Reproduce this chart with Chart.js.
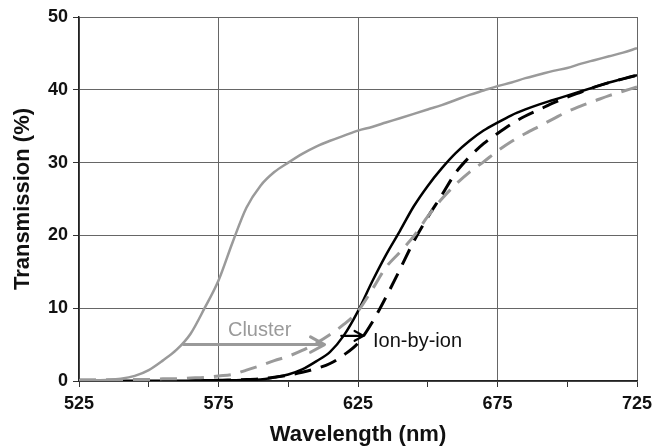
<!DOCTYPE html>
<html>
<head>
<meta charset="utf-8">
<script src="https://cdn.jsdelivr.net/npm/chart.js@4.4.1/dist/chart.umd.min.js"></script>
<style>
  html, body { margin: 0; padding: 0; background: #fff; }
  #wrap { width: 652px; height: 448px; position: relative; }
</style>
</head>
<body>
<div id="wrap"><canvas id="chart"></canvas></div>
<script>
// wavelength grid (nm)
const wavelengths = [
  525, 530, 535, 540, 545, 550, 555, 560, 565, 570,
  575, 580, 585, 590, 595, 600, 605, 610, 615, 620,
  625, 630, 635, 640, 645, 650, 655, 660, 665, 670,
  675, 680, 685, 690, 695, 700, 705, 710, 715, 720, 725
];

// transmission (%)
const clusterSolid = [
  0.1, 0.1, 0.15, 0.3, 0.7, 1.5, 2.8, 4.3, 6.5, 10.0,
  13.8, 19.0, 23.8, 26.8, 28.7, 30.0, 31.2, 32.2, 33.0, 33.7,
  34.4, 34.9, 35.5, 36.1, 36.7, 37.3, 37.9, 38.6, 39.3, 39.9,
  40.5, 41.0, 41.6, 42.1, 42.6, 43.0, 43.6, 44.1, 44.6, 45.1, 45.7
];
const clusterDashed = [
  0.1, 0.1, 0.1, 0.15, 0.2, 0.2, 0.3, 0.3, 0.4, 0.5,
  0.7, 0.9, 1.5, 2.1, 2.8, 3.4, 4.2, 5.2, 6.4, 7.8,
  9.6, 12.5, 15.6, 17.7, 19.9, 22.6, 25.0, 27.0, 28.7, 30.1,
  31.6, 32.9, 34.0, 35.0, 36.0, 37.0, 37.8, 38.5, 39.2, 39.8, 40.4
];
const ionSolid = [
  0.05, 0.05, 0.05, 0.05, 0.05, 0.05, 0.05, 0.05, 0.05, 0.1,
  0.1, 0.1, 0.15, 0.2, 0.5, 0.9, 1.6, 2.7, 4.0, 6.3,
  9.6, 13.6, 17.3, 20.6, 24.0, 26.8, 29.2, 31.3, 33.0, 34.4,
  35.5, 36.5, 37.3, 38.0, 38.6, 39.2, 39.8, 40.4, 41.0, 41.5, 42.0
];
const ionDashed = [
  0.1, 0.1, 0.1, 0.1, 0.1, 0.1, 0.1, 0.1, 0.1, 0.1,
  0.1, 0.15, 0.2, 0.3, 0.5, 0.8, 1.2, 1.7, 2.4, 3.6,
  5.2, 8.0, 11.5, 15.3, 19.2, 22.5, 25.5, 28.6, 30.8, 32.6,
  34.0, 35.3, 36.4, 37.3, 38.2, 39.0, 39.7, 40.4, 41.0, 41.5, 42.0
];

// in-plot notes: [fromNm, toNm, percent]
const clusterArrow = [562.5, 613, 5];
const ionArrow = [619, 627, 6.2];
// [text, nm, percent]
const clusterNote = ['Cluster', 578.4, 7.0];
const ionNote = ['Ion-by-ion', 630.4, 5.4];

const GRAY = '#9a9a9a';
const BLACK = '#000';
const FONT = '"Liberation Sans", Arial, sans-serif';

function pts(ys) {
  return wavelengths.map((x, i) => ({ x: x, y: ys[i] }));
}

function drawArrow(ctx, x1, x2, y, color, width, head) {
  ctx.save();
  ctx.strokeStyle = color;
  ctx.lineWidth = width;
  ctx.lineCap = 'round';
  ctx.lineJoin = 'round';
  ctx.beginPath();
  ctx.moveTo(x1, y);
  ctx.lineTo(x2, y);
  ctx.moveTo(x2 - head, y - head * 0.55);
  ctx.lineTo(x2, y);
  ctx.lineTo(x2 - head, y + head * 0.55);
  ctx.stroke();
  ctx.restore();
}

const notesPlugin = {
  id: 'notes',
  afterDatasetsDraw(chart) {
    const { ctx, scales: { x, y } } = chart;
    drawArrow(ctx, x.getPixelForValue(clusterArrow[0]), x.getPixelForValue(clusterArrow[1]),
      y.getPixelForValue(clusterArrow[2]), GRAY, 3, 14);
    drawArrow(ctx, x.getPixelForValue(ionArrow[0]), x.getPixelForValue(ionArrow[1]),
      y.getPixelForValue(ionArrow[2]), BLACK, 2.2, 9);

    ctx.save();
    ctx.font = '20px ' + FONT;
    ctx.textBaseline = 'middle';
    ctx.textAlign = 'left';
    ctx.fillStyle = GRAY;
    ctx.fillText(clusterNote[0], x.getPixelForValue(clusterNote[1]), y.getPixelForValue(clusterNote[2]));
    ctx.fillStyle = '#111';
    ctx.fillText(ionNote[0], x.getPixelForValue(ionNote[1]), y.getPixelForValue(ionNote[2]));
    ctx.restore();
  }
};

function line(label, ys, color, width, dash) {
  return {
    label: label,
    data: pts(ys),
    borderColor: color,
    borderWidth: width,
    borderDash: dash,
    pointRadius: 0,
    fill: false,
    tension: 0.4,
    cubicInterpolationMode: 'monotone'
  };
}

new Chart(document.getElementById('chart'), {
  type: 'line',
  data: {
    datasets: [
      line('Cluster', clusterSolid, GRAY, 2.5, []),
      line('Cluster (dashed)', clusterDashed, GRAY, 3, [17, 10]),
      line('Ion-by-ion (dashed)', ionDashed, BLACK, 3, [17, 10]),
      line('Ion-by-ion', ionSolid, BLACK, 2.5, [])
    ]
  },
  options: {
    responsive: true,
    maintainAspectRatio: false,
    animation: false,
    layout: { padding: { top: 17, right: 15, left: 0, bottom: 0 } },
    plugins: {
      legend: { display: false },
      tooltip: { enabled: false }
    },
    scales: {
      x: {
        type: 'linear',
        min: 525,
        max: 725,
        afterFit(scale) {
          scale.height = 67;
          scale.paddingLeft = 0;
          scale.paddingRight = 0;
        },
        ticks: {
          stepSize: 25,
          autoSkip: false,
          maxRotation: 0,
          padding: 6,
          color: '#111',
          font: { family: FONT, size: 18, weight: 'bold' },
          callback: v => ((v - 525) % 50 === 0 ? v : '')
        },
        grid: {
          color: c => ((c.tick && (c.tick.value - 525) % 50 === 0) ? '#666' : 'rgba(0,0,0,0)'),
          tickColor: '#333',
          tickLength: 6,
          lineWidth: 1
        },
        border: { color: '#222', width: 1.5 },
        title: {
          display: true,
          text: 'Wavelength (nm)',
          color: '#111',
          font: { family: FONT, size: 22, weight: 'bold' },
          padding: { top: 0, bottom: 0 }
        }
      },
      y: {
        min: 0,
        max: 50,
        afterFit(scale) {
          scale.width = 79;
          scale.paddingTop = 0;
          scale.paddingBottom = 0;
        },
        ticks: {
          stepSize: 10,
          padding: 5,
          color: '#111',
          font: { family: FONT, size: 18, weight: 'bold' }
        },
        grid: {
          color: '#666',
          tickColor: '#333',
          tickLength: 6,
          lineWidth: 1
        },
        border: { color: '#222', width: 1.5 },
        title: {
          display: true,
          text: 'Transmission (%)',
          color: '#111',
          font: { family: FONT, size: 22, weight: 'bold' },
          padding: { top: 10, bottom: 0 }
        }
      }
    }
  },
  plugins: [notesPlugin]
});
</script>
</body>
</html>
